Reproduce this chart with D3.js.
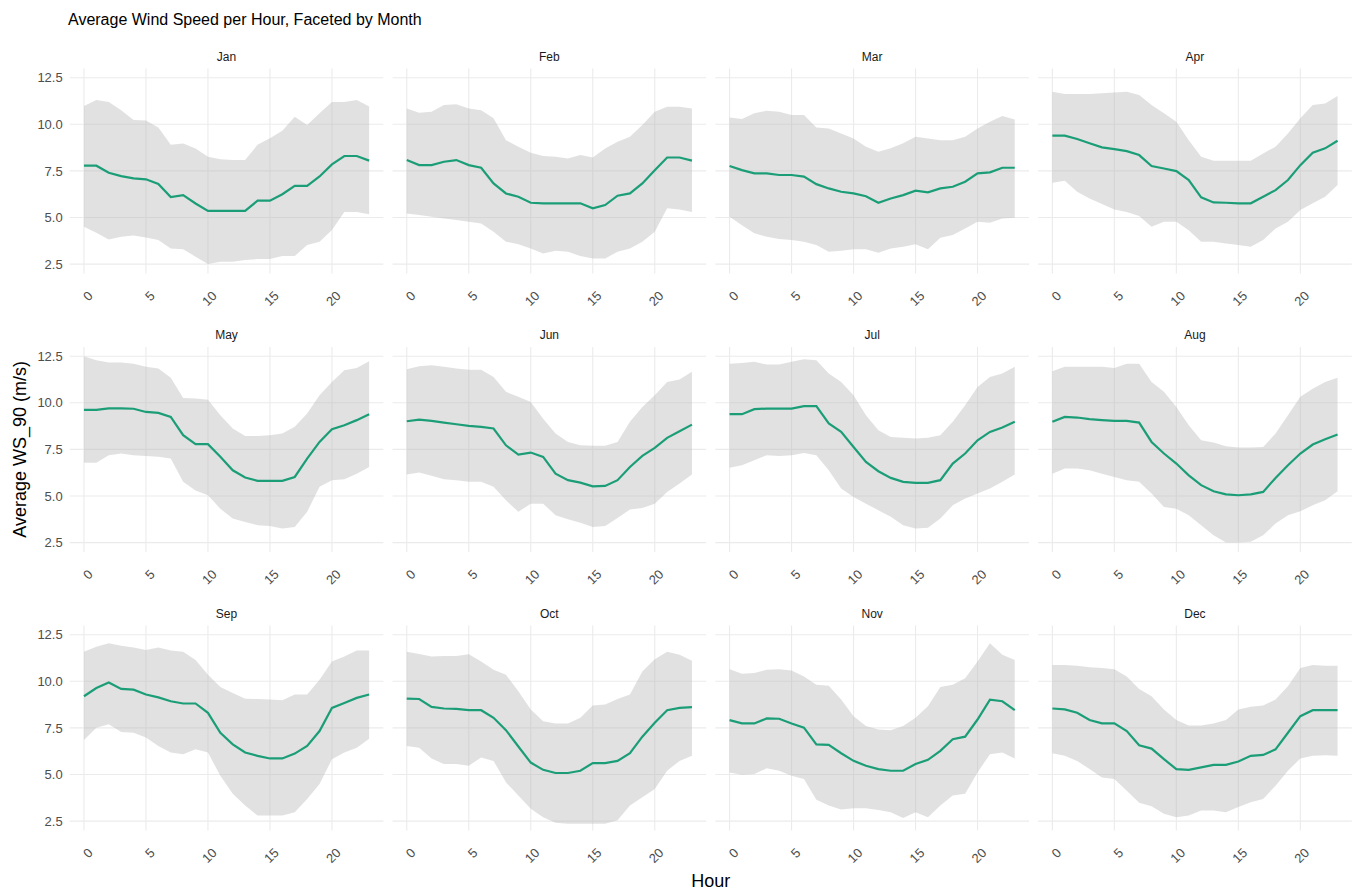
<!DOCTYPE html>
<html>
<head>
<meta charset="utf-8">
<script src="https://cdn.jsdelivr.net/npm/d3@7"></script>
<style>
  body { margin: 0; background: #fff; }
  text { font-family: "Liberation Sans", Arial, sans-serif; }
</style>
</head>
<body>
<div id="chart"></div>
<script>
// data, one row per month, hours 0..23
var months = ["Jan", "Feb", "Mar", "Apr", "May", "Jun", "Jul", "Aug", "Sep", "Oct", "Nov", "Dec"];
var hours = [0, 1, 2, 3, 4, 5, 6, 7, 8, 9, 10, 11, 12, 13, 14, 15, 16, 17, 18, 19, 20, 21, 22, 23];

var meanWs = [
  [7.78, 7.78, 7.4, 7.22, 7.1, 7.05, 6.8, 6.1, 6.2, 5.75, 5.35, 5.35, 5.35, 5.35, 5.9, 5.9, 6.25, 6.7, 6.7, 7.2, 7.85, 8.3, 8.3, 8.05],
  [8.08, 7.81, 7.81, 7.99, 8.08, 7.81, 7.67, 6.83, 6.29, 6.11, 5.79, 5.76, 5.76, 5.76, 5.76, 5.49, 5.67, 6.17, 6.29, 6.83, 7.54, 8.22, 8.22, 8.05],
  [7.76, 7.54, 7.37, 7.37, 7.28, 7.28, 7.19, 6.79, 6.56, 6.38, 6.29, 6.14, 5.79, 6.02, 6.2, 6.44, 6.35, 6.56, 6.65, 6.92, 7.37, 7.42, 7.67, 7.67],
  [9.39, 9.39, 9.21, 8.98, 8.76, 8.67, 8.56, 8.35, 7.76, 7.63, 7.49, 7.01, 6.08, 5.81, 5.79, 5.76, 5.76, 6.11, 6.47, 7.01, 7.81, 8.47, 8.71, 9.12],
  [9.62, 9.62, 9.7, 9.7, 9.68, 9.51, 9.46, 9.24, 8.26, 7.78, 7.78, 7.1, 6.38, 5.99, 5.81, 5.81, 5.81, 6.02, 7.01, 7.9, 8.58, 8.8, 9.07, 9.39],
  [9.01, 9.1, 9.03, 8.94, 8.85, 8.76, 8.71, 8.62, 7.72, 7.22, 7.33, 7.1, 6.2, 5.85, 5.72, 5.52, 5.54, 5.85, 6.56, 7.15, 7.58, 8.12, 8.47, 8.83],
  [9.39, 9.39, 9.66, 9.69, 9.69, 9.69, 9.82, 9.82, 8.89, 8.44, 7.63, 6.83, 6.33, 5.97, 5.76, 5.7, 5.7, 5.85, 6.74, 7.28, 7.99, 8.44, 8.67, 8.98],
  [8.98, 9.24, 9.21, 9.12, 9.07, 9.03, 9.03, 8.94, 7.9, 7.28, 6.74, 6.11, 5.58, 5.25, 5.09, 5.04, 5.09, 5.22, 5.97, 6.65, 7.28, 7.76, 8.05, 8.3],
  [9.2, 9.64, 9.94, 9.59, 9.55, 9.29, 9.14, 8.93, 8.81, 8.81, 8.31, 7.24, 6.62, 6.18, 6.0, 5.86, 5.86, 6.12, 6.53, 7.33, 8.57, 8.84, 9.11, 9.29],
  [9.07, 9.05, 8.63, 8.54, 8.52, 8.45, 8.45, 8.04, 7.38, 6.5, 5.64, 5.25, 5.08, 5.08, 5.2, 5.61, 5.61, 5.73, 6.14, 7.03, 7.78, 8.45, 8.57, 8.61],
  [7.92, 7.74, 7.74, 8.01, 7.99, 7.74, 7.51, 6.62, 6.59, 6.14, 5.73, 5.47, 5.29, 5.2, 5.2, 5.56, 5.79, 6.27, 6.89, 7.03, 7.95, 9.02, 8.93, 8.45],
  [8.54, 8.49, 8.31, 7.92, 7.74, 7.74, 7.33, 6.57, 6.39, 5.82, 5.29, 5.25, 5.38, 5.52, 5.52, 5.7, 6.0, 6.05, 6.35, 7.24, 8.13, 8.45, 8.45, 8.45]
];

var upperWs = [
  [10.98, 11.3, 11.2, 10.76, 10.23, 10.2, 9.83, 8.9, 8.97, 8.7, 8.26, 8.13, 8.08, 8.08, 8.9, 9.25, 9.65, 10.4, 9.96, 10.6, 11.2, 11.2, 11.3, 10.95],
  [10.85, 10.62, 10.67, 11.03, 11.07, 10.85, 10.76, 10.32, 9.15, 8.8, 8.47, 8.3, 8.26, 8.17, 8.35, 8.22, 8.7, 9.06, 9.33, 9.96, 10.67, 10.94, 10.94, 10.85],
  [10.37, 10.28, 10.59, 10.73, 10.67, 10.5, 10.5, 9.83, 9.78, 9.51, 9.24, 8.8, 8.53, 8.71, 8.98, 9.33, 9.24, 9.15, 9.15, 9.33, 9.78, 10.14, 10.44, 10.26],
  [11.75, 11.62, 11.62, 11.62, 11.66, 11.71, 11.75, 11.57, 11.03, 10.59, 10.14, 9.15, 8.26, 8.05, 8.05, 8.05, 8.05, 8.44, 8.8, 9.51, 10.32, 11.03, 11.12, 11.52],
  [12.5, 12.29, 12.16, 12.16, 12.1, 11.93, 11.84, 11.34, 10.26, 10.23, 10.17, 9.33, 8.62, 8.22, 8.22, 8.26, 8.35, 8.71, 9.42, 10.41, 11.12, 11.75, 11.87, 12.23],
  [11.8, 11.96, 12.02, 11.93, 11.84, 11.78, 11.78, 11.39, 10.59, 10.32, 10.05, 9.15, 8.35, 7.9, 7.72, 7.69, 7.69, 7.9, 8.98, 9.78, 10.41, 11.12, 11.25, 11.66],
  [12.1, 12.14, 12.2, 12.05, 12.05, 12.2, 12.34, 12.29, 11.57, 11.12, 10.41, 9.33, 8.53, 8.17, 8.12, 8.08, 8.12, 8.26, 8.98, 9.87, 10.85, 11.39, 11.57, 11.93],
  [11.7, 11.93, 11.93, 11.93, 11.93, 11.87, 12.1, 12.1, 11.12, 10.59, 9.78, 8.8, 7.99, 7.87, 7.67, 7.6, 7.6, 7.63, 8.35, 9.33, 10.32, 10.76, 11.12, 11.34],
  [11.59, 11.86, 12.04, 11.91, 11.81, 11.68, 11.81, 11.65, 11.59, 11.15, 10.35, 9.69, 9.37, 9.07, 9.05, 9.02, 8.98, 9.29, 9.29, 10.08, 11.06, 11.33, 11.65, 11.65],
  [11.59, 11.47, 11.33, 11.36, 11.36, 11.45, 11.06, 10.62, 10.35, 9.46, 8.49, 7.86, 7.74, 7.74, 8.04, 8.7, 8.75, 9.05, 9.29, 10.53, 11.19, 11.59, 11.42, 11.1],
  [10.65, 10.4, 10.44, 10.62, 10.65, 10.58, 10.26, 9.82, 9.76, 9.02, 8.13, 7.6, 7.42, 7.38, 7.6, 8.04, 8.66, 9.69, 9.82, 10.17, 11.06, 12.04, 11.42, 11.15],
  [10.88, 10.88, 10.83, 10.76, 10.71, 10.65, 10.26, 9.59, 9.2, 8.49, 7.92, 7.63, 7.63, 7.74, 7.92, 8.49, 8.63, 8.7, 9.02, 9.73, 10.71, 10.88, 10.83, 10.83]
];

var lowerWs = [
  [4.5, 4.18, 3.82, 3.97, 4.04, 3.93, 3.79, 3.34, 3.29, 2.9, 2.5, 2.63, 2.63, 2.72, 2.77, 2.77, 2.93, 2.93, 3.52, 3.7, 4.33, 5.3, 5.3, 5.18],
  [5.22, 5.13, 5.04, 4.95, 4.86, 4.77, 4.68, 4.24, 3.7, 3.57, 3.34, 3.07, 3.22, 3.16, 2.93, 2.8, 2.8, 3.16, 3.34, 3.7, 4.24, 5.49, 5.43, 5.3],
  [5.04, 4.59, 4.15, 3.97, 3.84, 3.79, 3.7, 3.52, 3.16, 3.22, 3.29, 3.3, 3.11, 3.34, 3.43, 3.57, 3.3, 3.91, 4.06, 4.41, 4.77, 4.72, 4.95, 4.99],
  [6.86, 6.97, 6.38, 6.02, 5.72, 5.43, 5.3, 5.08, 4.5, 4.77, 4.77, 4.32, 3.7, 3.7, 3.61, 3.52, 3.43, 3.79, 4.41, 4.77, 5.4, 5.76, 6.11, 6.74],
  [6.78, 6.79, 7.19, 7.28, 7.19, 7.15, 7.1, 7.01, 5.76, 5.3, 5.04, 4.32, 3.79, 3.61, 3.43, 3.39, 3.25, 3.34, 4.15, 5.49, 5.85, 5.9, 6.2, 6.56],
  [6.15, 6.26, 6.08, 5.9, 5.85, 5.76, 5.76, 5.49, 4.77, 4.15, 4.59, 4.59, 3.97, 3.75, 3.57, 3.34, 3.39, 3.82, 4.27, 4.35, 4.59, 5.22, 5.67, 6.15],
  [6.51, 6.65, 6.92, 7.19, 7.15, 7.19, 7.31, 7.19, 6.38, 5.4, 4.95, 4.59, 4.24, 3.88, 3.43, 3.25, 3.29, 3.79, 4.5, 4.86, 5.13, 5.4, 5.76, 6.15],
  [6.2, 6.47, 6.47, 6.38, 6.2, 6.02, 5.85, 5.76, 5.13, 4.41, 4.32, 3.97, 3.43, 2.9, 2.5, 2.5, 2.54, 2.9, 3.52, 3.97, 4.18, 4.5, 4.77, 5.25],
  [6.85, 7.51, 7.69, 7.28, 7.24, 6.98, 6.53, 6.18, 6.09, 6.35, 6.18, 4.93, 3.96, 3.33, 2.8, 2.8, 2.8, 2.98, 3.69, 4.49, 5.82, 6.18, 6.44, 6.92],
  [6.53, 6.44, 5.86, 5.56, 5.56, 5.47, 5.91, 5.73, 4.58, 3.87, 3.16, 2.71, 2.41, 2.36, 2.36, 2.36, 2.36, 2.54, 3.33, 3.78, 4.22, 5.2, 5.73, 6.0],
  [5.11, 4.99, 5.02, 5.34, 5.2, 4.93, 4.76, 3.64, 3.33, 3.12, 3.19, 3.19, 3.1, 2.98, 2.66, 2.98, 2.71, 3.33, 3.87, 3.96, 5.11, 6.09, 6.18, 5.86],
  [6.14, 6.0, 5.73, 5.29, 4.84, 4.76, 4.13, 3.48, 3.3, 2.89, 2.71, 2.8, 3.07, 3.07, 2.98, 3.25, 3.51, 3.69, 4.4, 5.2, 5.86, 6.0, 6.03, 6.0]
];

var xTicks = [0, 5, 10, 15, 20];
var yTicks = [2.5, 5.0, 7.5, 10.0, 12.5];

var width = 1356,
  height = 891;
var ncol = 4;
var left0 = 69.7, top0 = 68.4;
var panelW = 313.7, panelH = 205;
var colStep = 322.8, rowStep = 278.5;

var svg = d3.select("#chart")
  .append("svg")
  .attr("width", width)
  .attr("height", height);

var x = d3.scaleLinear().domain([-1.15, 24.15]).range([0, panelW]);
var y = d3.scaleLinear().domain([2, 13]).range([panelH, 0]);

var band = d3.area()
  .x(function(d) { return x(d.hour); })
  .y0(function(d) { return y(d.lo); })
  .y1(function(d) { return y(d.hi); });

var line = d3.line()
  .x(function(d) { return x(d.hour); })
  .y(function(d) { return y(d.mean); });

months.forEach(function(m, k) {
  var col = k % ncol,
    row = Math.floor(k / ncol);
  var rows = hours.map(function(h, i) {
    return { hour: h, mean: meanWs[k][i], hi: upperWs[k][i], lo: lowerWs[k][i] };
  });

  var g = svg.append("g")
    .attr("transform", "translate(" + (left0 + col * colStep) + "," + (top0 + row * rowStep) + ")");

  // grid
  g.selectAll(".hgrid")
    .data(yTicks)
    .enter()
    .append("line")
    .attr("x1", 0).attr("x2", panelW)
    .attr("y1", function(d) { return y(d); })
    .attr("y2", function(d) { return y(d); })
    .attr("stroke", "#ebebeb")
    .attr("stroke-width", 1.1);

  g.selectAll(".vgrid")
    .data(xTicks)
    .enter()
    .append("line")
    .attr("x1", function(d) { return x(d); })
    .attr("x2", function(d) { return x(d); })
    .attr("y1", 0).attr("y2", panelH)
    .attr("stroke", "#ebebeb")
    .attr("stroke-width", 1.1);

  g.append("path")
    .datum(rows)
    .attr("d", band)
    .attr("fill", "#b3b3b3")
    .attr("fill-opacity", 0.4);

  g.append("path")
    .datum(rows)
    .attr("d", line)
    .attr("fill", "none")
    .attr("stroke", "#1b9e77")
    .attr("stroke-width", 2.2);

  // strip label
  g.append("text")
    .text(m)
    .attr("x", panelW / 2)
    .attr("y", -12)
    .attr("dy", "0.35em")
    .attr("text-anchor", "middle")
    .attr("font-size", "12px")
    .attr("fill", "#1a1a1a");

  // x axis, labels turned 45 degrees
  var xa = g.append("g")
    .attr("transform", "translate(0," + panelH + ")")
    .call(d3.axisBottom(x).tickValues(xTicks).tickSize(0).tickFormat(d3.format("d")));
  xa.select(".domain").remove();
  xa.selectAll("text")
    .attr("x", 0).attr("y", 0)
    .attr("dy", "0.35em")
    .attr("text-anchor", "end")
    .attr("transform", "translate(6,20) rotate(-45)")
    .attr("font-size", "13px")
    .attr("font-family", null)
    .attr("fill", "#4d4d4d");

  if (col === 0) {
    var ya = g.append("g")
      .call(d3.axisLeft(y).tickValues(yTicks).tickSize(0).tickPadding(7).tickFormat(d3.format(".1f")));
    ya.select(".domain").remove();
    ya.selectAll("text")
      .attr("font-size", "13px")
      .attr("font-family", null)
      .attr("fill", "#4d4d4d");
  }
});

var plotRight = left0 + (ncol - 1) * colStep + panelW;
var plotBottom = top0 + 2 * rowStep + panelH;

svg.append("text")
  .text("Average Wind Speed per Hour, Faceted by Month")
  .attr("x", 68).attr("y", 25)
  .attr("font-size", "16px")
  .attr("fill", "#000");

svg.append("text")
  .text("Hour")
  .attr("x", (left0 + plotRight) / 2)
  .attr("y", 887)
  .attr("text-anchor", "middle")
  .attr("font-size", "18px")
  .attr("fill", "#000");

svg.append("text")
  .text("Average WS_90 (m/s)")
  .attr("transform", "translate(20," + ((top0 + plotBottom) / 2) + ") rotate(-90)")
  .attr("dy", "0.35em")
  .attr("text-anchor", "middle")
  .attr("font-size", "18px")
  .attr("fill", "#000");
</script>
</body>
</html>
